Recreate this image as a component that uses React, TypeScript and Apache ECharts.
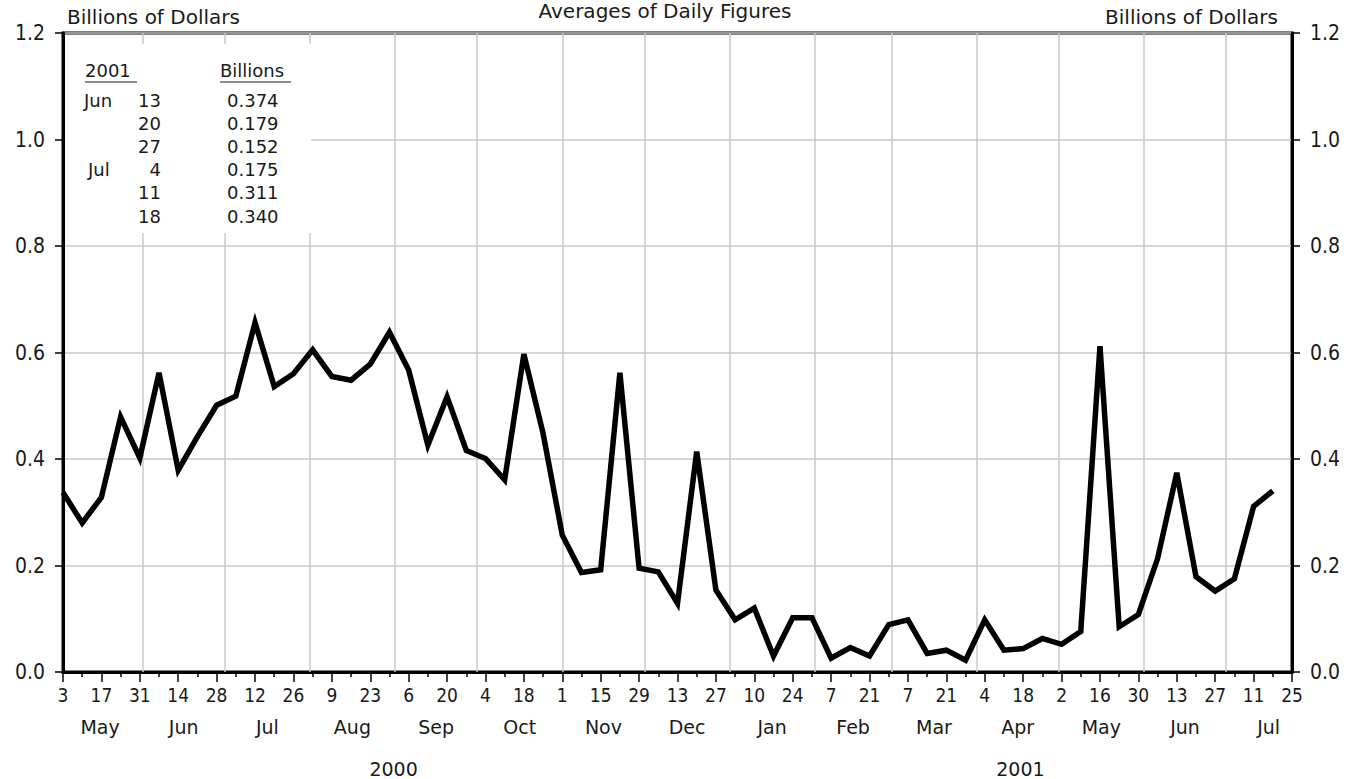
import React, { useEffect, useRef } from "react";
import * as echarts from "echarts";

// Weekly averages of daily figures, weeks ending Wednesday, starting May 3, 2000
const START = Date.UTC(2000, 4, 3);
const DAY = 86400000;
const weeklyValues = [
  0.337, 0.280, 0.328, 0.479, 0.402, 0.562, 0.379, 0.442, 0.501, 0.518,
  0.656, 0.536, 0.560, 0.605, 0.555, 0.548, 0.578, 0.638, 0.567, 0.426,
  0.517, 0.416, 0.401, 0.361, 0.597, 0.448, 0.257, 0.187, 0.192, 0.562,
  0.195, 0.188, 0.129, 0.414, 0.154, 0.098, 0.120, 0.030, 0.102, 0.102,
  0.026, 0.046, 0.030, 0.089, 0.098, 0.035, 0.041, 0.022, 0.098, 0.041,
  0.044, 0.063, 0.052, 0.076, 0.612, 0.085, 0.108, 0.213, 0.374, 0.179,
  0.152, 0.175, 0.311, 0.340,
];
const monthNames = ["Jan", "Feb", "Mar", "Apr", "May", "Jun", "Jul", "Aug", "Sep", "Oct", "Nov", "Dec"];
// months shown on the axis: [year, monthIndex]
const axisMonths: [number, number][] = [
  [2000, 4], [2000, 5], [2000, 6], [2000, 7], [2000, 8], [2000, 9], [2000, 10], [2000, 11],
  [2001, 0], [2001, 1], [2001, 2], [2001, 3], [2001, 4], [2001, 5], [2001, 6],
];
const yearSpans: [string, number, number, number, number][] = [
  // label, startYear, startMonth, endYear, endMonth (exclusive)
  ["2000", 2000, 4, 2001, 0],
  ["2001", 2001, 0, 2001, 7],
];
// legend table: last six weeks
const legendRows: [string, number][] = [
  ["Jun", 58], ["", 59], ["", 60], ["Jul", 61], ["", 62], ["", 63],
];
const X_MAX_DAYS = 448;
const Y_TICKS = { min: 0, max: 1.2, interval: 0.2 };

const off = (y: number, m: number, d = 1) => (Date.UTC(y, m, d) - START) / DAY;

const NARROW = '"Liberation Sans Narrow", "DejaVu Sans Condensed", "DejaVu Sans", sans-serif';
const SANS = '"DejaVu Sans", "Noto Sans", sans-serif';
const TXT = "#1a1a1a";

export default function App() {
  const ref = useRef<HTMLDivElement>(null);
  useEffect(() => {
    if (!ref.current) return;
    const chart = echarts.init(ref.current, undefined, { renderer: "svg" });
    const seriesData = weeklyValues.map((v, i) => [i * 7, v]);
    const gridMonthStarts = axisMonths.slice(1).map(([y, m]) => ({ xAxis: off(y, m) }));

    const yAxisCommon = {
      type: "value",
      min: Y_TICKS.min,
      max: Y_TICKS.max,
      interval: Y_TICKS.interval,
      axisLine: { show: true, lineStyle: { color: "#000", width: 3 } },
      axisTick: { show: true, inside: false, length: 8, lineStyle: { color: "#000", width: 1.5 } },
      axisLabel: {
        margin: 18,
        color: TXT,
        fontFamily: NARROW,
        fontSize: 21,
        formatter: (v: number) => v.toFixed(1),
      },
      nameGap: 6,
      nameTextStyle: { fontFamily: SANS, fontSize: 20, color: TXT, verticalAlign: "bottom" },
    };

    chart.setOption({
      animation: false,
      backgroundColor: "#fff",
      title: {
        text: "Averages of Daily Figures",
        left: 660,
        top: 0,
        padding: [1, 5, 5, 5],
        textAlign: "center",
        textStyle: { fontFamily: SANS, fontSize: 20, fontWeight: "normal", color: TXT },
      },
      grid: {
        left: 63,
        right: 55,
        top: 33,
        bottom: 107,
        show: true,
        borderColor: "#000",
        borderWidth: 3,
        backgroundColor: "transparent",
      },
      xAxis: {
        type: "value",
        min: 0,
        max: X_MAX_DAYS,
        interval: 14,
        axisLine: { show: true, onZero: false, lineStyle: { color: "#000", width: 3 } },
        axisTick: { show: true, length: 10, lineStyle: { color: "#000", width: 1.5 } },
        minorTick: { show: true, splitNumber: 2, length: 5, lineStyle: { color: "#000", width: 1.5 } },
        splitLine: { show: false },
        axisLabel: {
          margin: 13,
          color: TXT,
          fontFamily: NARROW,
          fontSize: 19,
          formatter: (v: number) => String(new Date(START + v * DAY).getUTCDate()),
        },
      },
      yAxis: [
        {
          ...yAxisCommon,
          position: "left",
          name: "Billions of Dollars",
          nameLocation: "end",
          nameTextStyle: { ...yAxisCommon.nameTextStyle, align: "left", padding: [0, 0, 0, 4] },
          splitLine: { show: true, lineStyle: { color: "#c8c8c8", width: 1.5 } },
        },
        {
          ...yAxisCommon,
          position: "right",
          name: "Billions of Dollars",
          nameLocation: "end",
          nameTextStyle: { ...yAxisCommon.nameTextStyle, align: "right", padding: [0, 14, 0, 0] },
          splitLine: { show: false },
        },
      ],
      series: [
        {
          type: "line",
          data: seriesData,
          yAxisIndex: 0,
          symbol: "none",
          z: 5,
          lineStyle: { color: "#000", width: 5.5, join: "miter", miterLimit: 10, cap: "butt" },
          markLine: {
            silent: true,
            z: 1,
            symbol: ["none", "none"],
            label: { show: false },
            lineStyle: { color: "#c8c8c8", width: 1.5, type: "solid" },
            emphasis: { disabled: true },
            data: gridMonthStarts,
          },
        },
      ],
    });

    const px = (d: number) => (chart.convertToPixel({ gridIndex: 0 }, [d, 0]) as number[])[0];
    const graphics: any[] = [];
    axisMonths.forEach(([y, m]) => {
      const days = new Date(Date.UTC(y, m + 1, 0)).getUTCDate();
      const mid = off(y, m) + days / 2;
      graphics.push({
        type: "text",
        x: px(mid),
        y: 727,
        z: 100,
        style: {
          text: monthNames[m],
          align: "center",
          verticalAlign: "middle",
          font: `19px ${SANS}`,
          fill: TXT,
        },
      });
    });
    yearSpans.forEach(([label, y1, m1, y2, m2]) => {
      const mid = (px(off(y1, m1)) + px(off(y2, m2))) / 2;
      graphics.push({
        type: "text",
        x: mid,
        y: 769,
        z: 100,
        style: { text: label, align: "center", verticalAlign: "middle", font: `19px ${SANS}`, fill: TXT },
      });
    });

    // legend table box
    const box: any[] = [
      { type: "rect", shape: { x: 65, y: 44, width: 246, height: 189 }, style: { fill: "#fff" }, z: 100 },
      { type: "text", x: 85, y: 70, z: 101, style: { text: "2001", font: `18px ${SANS}`, fill: TXT, verticalAlign: "middle" } },
      { type: "line", shape: { x1: 85, y1: 82, x2: 137, y2: 82 }, style: { stroke: TXT, lineWidth: 1.2 }, z: 101 },
      { type: "text", x: 220, y: 70, z: 101, style: { text: "Billions", font: `18px ${SANS}`, fill: TXT, verticalAlign: "middle" } },
      { type: "line", shape: { x1: 220, y1: 82, x2: 291, y2: 82 }, style: { stroke: TXT, lineWidth: 1.2 }, z: 101 },
    ];
    legendRows.forEach(([mon, idx], r) => {
      const yy = 100 + r * 23.2;
      const day = new Date(START + idx * 7 * DAY).getUTCDate();
      if (mon) {
        box.push({ type: "text", x: mon === "Jul" ? 88 : 84, y: yy, z: 101, style: { text: mon, font: `18px ${SANS}`, fill: TXT, verticalAlign: "middle" } });
      }
      box.push({ type: "text", x: 161, y: yy, z: 101, style: { text: String(day), font: `18px ${SANS}`, fill: TXT, align: "right", verticalAlign: "middle" } });
      box.push({ type: "text", x: 227, y: yy, z: 101, style: { text: weeklyValues[idx].toFixed(3), font: `18px ${SANS}`, fill: TXT, verticalAlign: "middle" } });
    });

    chart.setOption({ graphic: [...graphics, ...box] });

    return () => chart.dispose();
  }, []);
  return <div ref={ref} style={{ position: "fixed", left: 0, top: 0, width: 1347, height: 779 }} />;
}
